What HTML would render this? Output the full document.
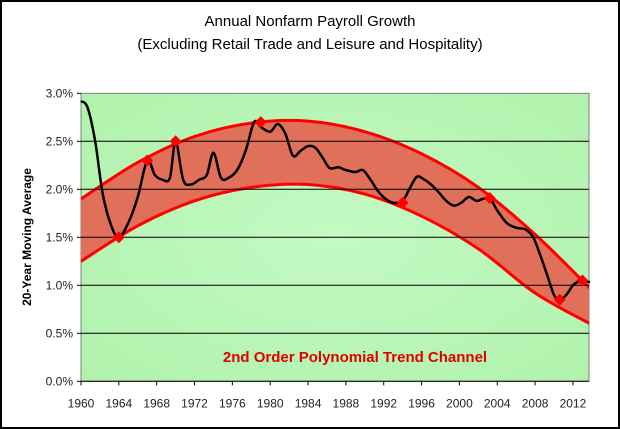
<!DOCTYPE html>
<html><head><meta charset="utf-8"><style>
body{margin:0;background:#fff;}
svg{display:block;font-family:"Liberation Sans",sans-serif;}
</style></head><body>
<svg id="c" width="620" height="429">
<rect x="1" y="1" width="618" height="427" fill="#fff" stroke="#000" stroke-width="2"/>
<text x="310" y="26" text-anchor="middle" font-size="15">Annual Nonfarm Payroll Growth</text>
<text x="310" y="49" text-anchor="middle" font-size="15">(Excluding Retail Trade and Leisure and Hospitality)</text>
<text transform="translate(31,237) rotate(-90)" text-anchor="middle" font-size="12" font-weight="bold">20-Year Moving Average</text>
<g id="plot"></g>
</svg>
<script>
const years=[1960,1960.7,1961.5,1962.3,1963.2,1964,1965,1966,1967,1967.8,1968.6,1969.4,1970,1970.8,1971.6,1972.5,1973.3,1974,1974.8,1975.6,1976.5,1977.4,1978.3,1979,1980,1980.8,1981.6,1982.4,1983.2,1984,1984.8,1985.6,1986.3,1987.2,1988,1989,1989.8,1990.6,1991.4,1992.2,1993,1994,1994.7,1995.5,1996.3,1997,1997.8,1998.6,1999.4,2000.2,2001,2001.8,2002.5,2003.2,2004,2005,2006,2007,2007.8,2008.6,2009.3,2010,2010.6,2011.3,2012,2012.6,2013,2013.8];
const values=[2.92,2.85,2.5,1.95,1.62,1.5,1.65,1.92,2.3,2.15,2.1,2.12,2.5,2.1,2.05,2.1,2.15,2.38,2.12,2.12,2.2,2.4,2.7,2.65,2.6,2.68,2.58,2.35,2.4,2.45,2.43,2.32,2.22,2.23,2.2,2.18,2.2,2.1,1.98,1.9,1.86,1.88,2.0,2.13,2.1,2.05,1.97,1.88,1.83,1.86,1.92,1.88,1.9,1.91,1.78,1.65,1.6,1.58,1.5,1.3,1.1,0.9,0.85,0.9,1.0,1.04,1.05,1.03];
const markerYears=[1964,1967,1970,1979,1994,2003.2,2010.6,2013];
const markerValues=[1.5,2.3,2.5,2.7,1.86,1.91,0.85,1.05];
const chanYears=[1960,1966,1972,1978,1984,1990,1996,2002,2008,2013.8];
const upper=[1.9,2.28,2.55,2.69,2.71,2.6,2.37,2.02,1.53,0.97];
const lower=[1.25,1.62,1.88,2.02,2.05,1.95,1.72,1.38,0.92,0.6];
const yTicks=[0,0.5,1,1.5,2,2.5,3];
const yLabels=["0.0%","0.5%","1.0%","1.5%","2.0%","2.5%","3.0%"];
const xTicks=[1960,1964,1968,1972,1976,1980,1984,1988,1992,1996,2000,2004,2008,2012];

const L=81,R=589,T=93.3,B=381.3,X0=1960,X1=2013.7,YMAX=3;
const sx=v=>L+(v-X0)/(X1-X0)*(R-L);
const sy=v=>B-v/YMAX*(B-T);
const NS="http://www.w3.org/2000/svg";
const g=document.getElementById('plot');
function mk(t,a,p){const e=document.createElementNS(NS,t);for(const k in a)e.setAttribute(k,a[k]);(p||g).appendChild(e);return e;}
function smooth(pts){let d=`M${pts[0][0]},${pts[0][1]}`;for(let i=0;i<pts.length-1;i++){const p0=pts[i-1]||pts[i],p1=pts[i],p2=pts[i+1],p3=pts[i+2]||p2;
d+=` C${p1[0]+(p2[0]-p0[0])/6},${p1[1]+(p2[1]-p0[1])/6} ${p2[0]-(p3[0]-p1[0])/6},${p2[1]-(p3[1]-p1[1])/6} ${p2[0]},${p2[1]}`;}return d;}

const defs=mk('defs',{});
const grad=mk('radialGradient',{id:'bg',cx:'50%',cy:'50%',r:'70%'},defs);
mk('stop',{offset:'0',"stop-color":'#c4fac4'},grad);mk('stop',{offset:'1',"stop-color":'#b0f2ac'},grad);
const clip=mk('clipPath',{id:'cp'},defs);mk('rect',{x:L,y:T,width:R-L,height:B-T},clip);

let e=mk('rect',{x:L,y:T,width:R-L,height:B-T,fill:'url(#bg)',stroke:'#808080'});


const up=chanYears.map((y,i)=>[sx(y),sy(upper[i])]);
const lo=chanYears.map((y,i)=>[sx(y),sy(lower[i])]);
const loR=lo.slice().reverse();
const band=smooth(up)+' L'+smooth(loR).slice(1)+' Z';
const cg=mk('g',{"clip-path":'url(#cp)'});
e=mk('path',{d:band,fill:'#e0705a',stroke:'none'},cg);


yTicks.forEach((v,i)=>{
 if(v>0&&v<3){e=mk('line',{x1:L,x2:R,y1:sy(v),y2:sy(v),stroke:'#000','stroke-width':1});
 }
 mk('line',{x1:L-4,x2:L,y1:sy(v),y2:sy(v),stroke:'#000'});
 e=mk('text',{x:L-8,y:sy(v)+4,'text-anchor':'end','font-size':12,fill:'#222'});e.textContent=yLabels[i];
 
});
mk('line',{x1:L,x2:R,y1:B,y2:B,stroke:'#000'});
xTicks.forEach(v=>{
 mk('line',{x1:sx(v),x2:sx(v),y1:B,y2:B+4,stroke:'#000'});
 e=mk('text',{x:sx(v),y:B+26,'text-anchor':'middle','font-size':12,fill:'#222'});e.textContent=v;
 
});

e=mk('path',{d:smooth(up),fill:'none',stroke:'#ff0000','stroke-width':3},cg);

e=mk('path',{d:smooth(lo),fill:'none',stroke:'#ff0000','stroke-width':3},cg);


e=mk('path',{d:smooth(years.map((y,i)=>[sx(y),sy(values[i])])),fill:'none',stroke:'#000','stroke-width':2.5,'stroke-linejoin':'round'});


markerYears.forEach((y,i)=>{const cx=sx(y),cy=sy(markerValues[i]);
 e=mk('path',{d:`M${cx},${cy-6}L${cx+6},${cy}L${cx},${cy+6}L${cx-6},${cy}Z`,fill:'#ff0000'});
 });

e=mk('text',{x:355,y:362,'text-anchor':'middle','font-size':15,'font-weight':'bold',fill:'#e00000'});
e.textContent='2nd Order Polynomial Trend Channel';

</script>
</body></html>
